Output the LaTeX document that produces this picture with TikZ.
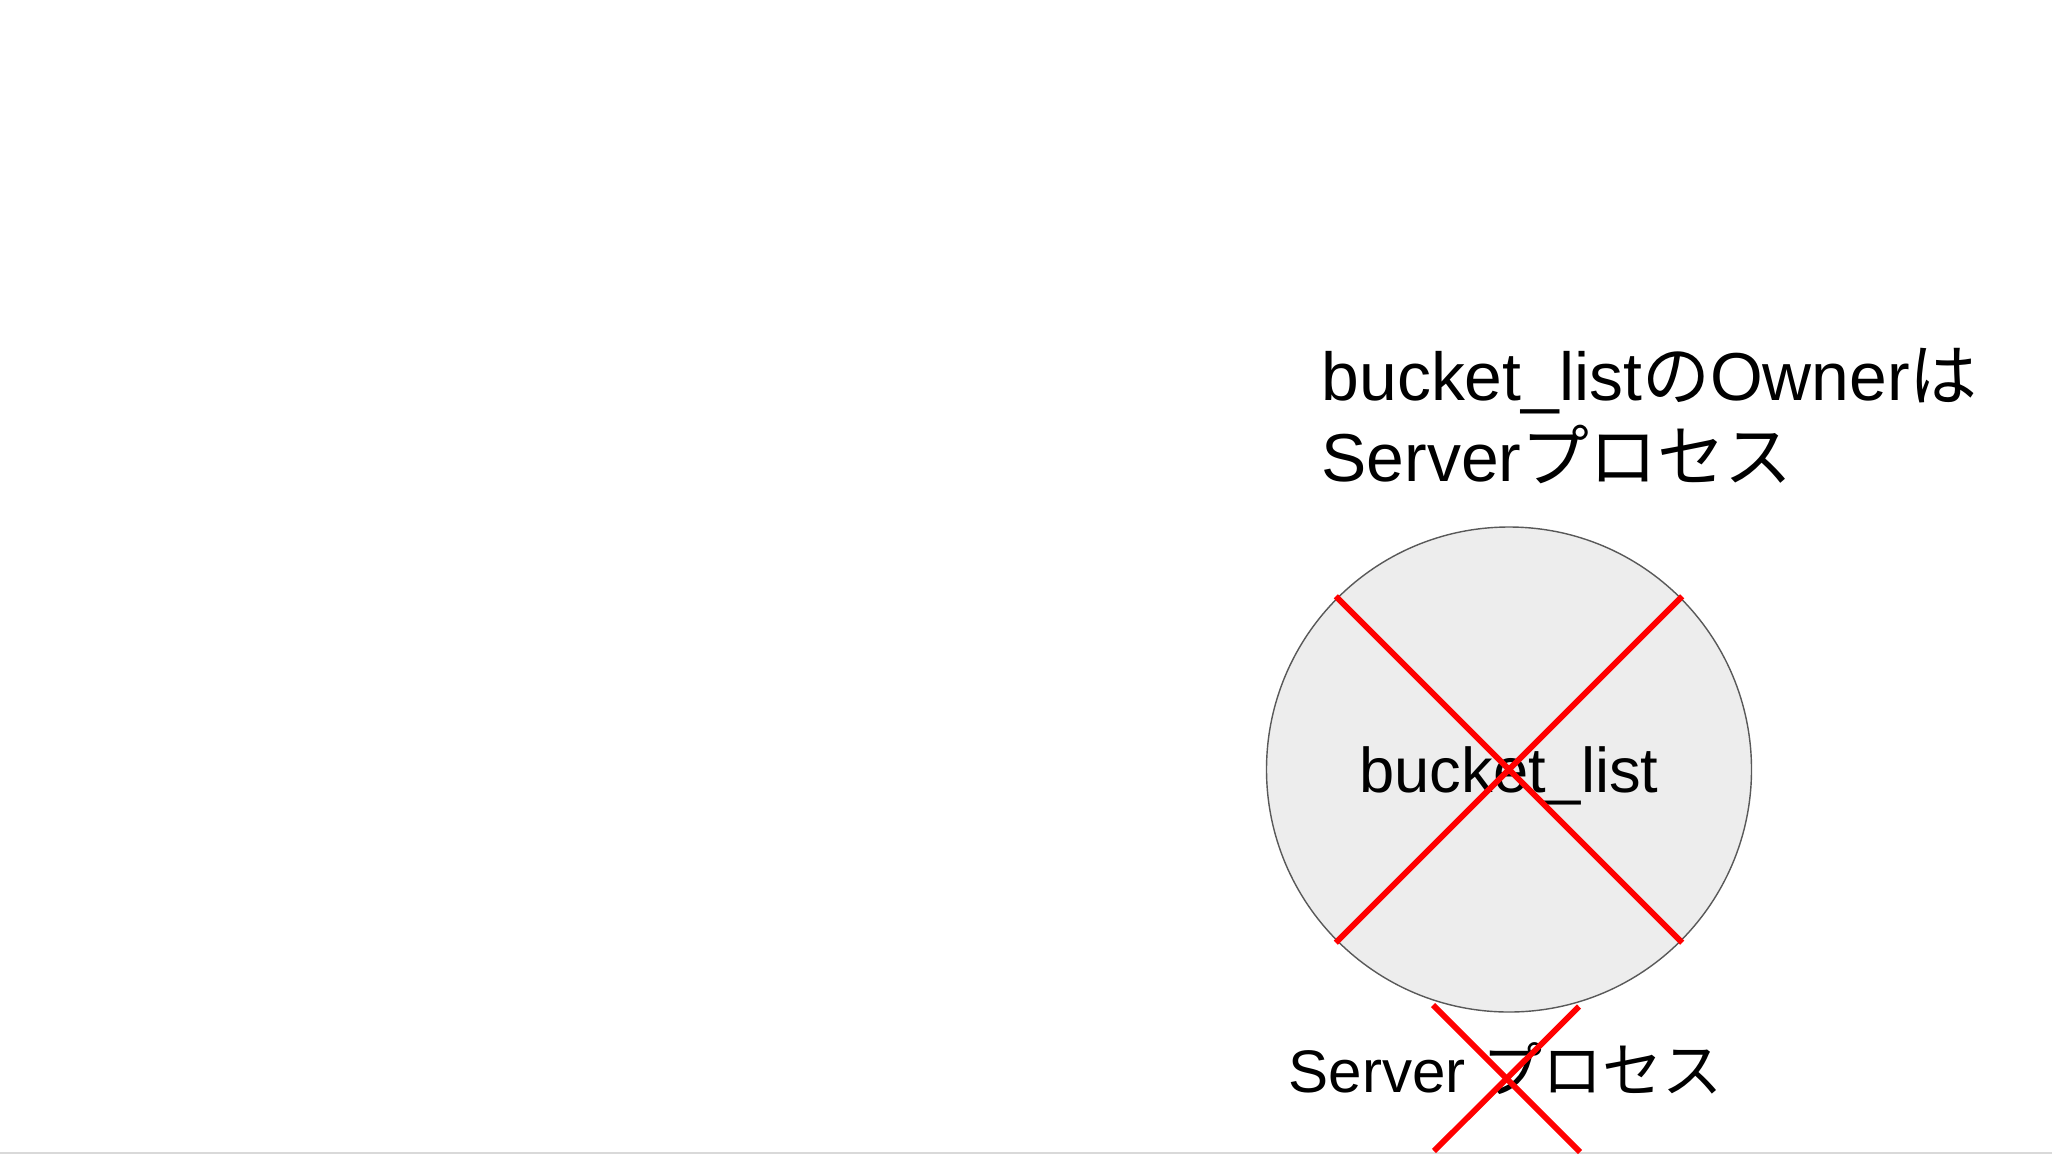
\documentclass[tikz,border=0pt]{standalone}
\usepackage{fontspec}
\setmainfont{Liberation Sans}
\newfontfamily\jp{Noto Sans CJK JP}
\usetikzlibrary{positioning}

\begin{document}
\begin{tikzpicture}[
  slidetext/.style={inner sep=0pt},
  listcircle/.style={draw=black!65, fill=black!7, circle, line width=0.4pt, minimum size=4.85cm, inner sep=0pt, text depth=0pt},
  cross/.style={red, line width=1.65pt},
]

\useasboundingbox (0,0) rectangle (20.52,-11.54);
\draw[black!15, line width=0.6pt] (0,-11.53) -- (20.52,-11.53);

\node (owner) [slidetext, anchor=base west, align=left, font=\fontsize{19.3}{23}\selectfont] at (13.21,-4.817)
  {bucket\_list{\jp の}Owner{\jp は}\\Server{\jp プロセス}};

\node (bucket) [listcircle, slidetext, font=\fontsize{18}{22}\selectfont] at (15.09,-7.695) {bucket\_list};

\node (server) [slidetext, anchor=base west, font=\fontsize{17.1}{21}\selectfont] at (12.88,-10.923) {Server {\jp プロセス}};

% crossed out
\draw[cross, shorten <=-0.5pt, shorten >=-0.5pt] (bucket.north west) -- (bucket.south east);
\draw[cross, shorten <=-0.5pt, shorten >=-0.5pt] (bucket.north east) -- (bucket.south west);

\coordinate (sA) at (14.33,-10.05);
\coordinate (sB) at (15.80,-11.52);
\coordinate (sC) at (15.79,-10.065);
\coordinate (sD) at (14.34,-11.51);
\draw[cross] (sA) -- (sB);
\draw[cross] (sC) -- (sD);

\end{tikzpicture}
\end{document}
